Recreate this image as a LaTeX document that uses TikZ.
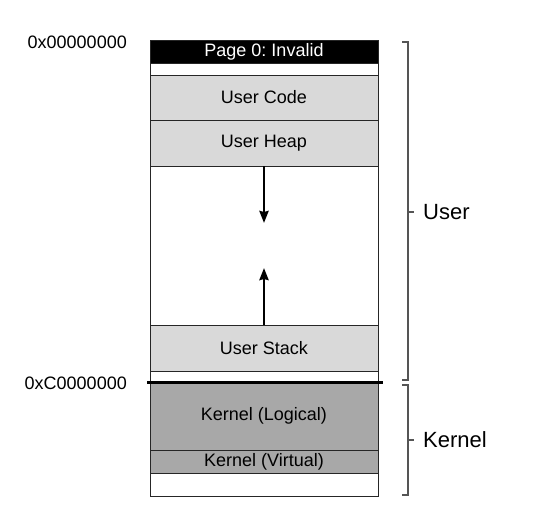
\documentclass[tikz,border=0pt]{standalone}
\usepackage{fontspec}
\setmainfont{Liberation Sans}
\usetikzlibrary{arrows.meta}
\definecolor{ugray}{HTML}{D9D9D9}
\definecolor{kgray}{HTML}{A8A8A8}
\definecolor{brgray}{HTML}{555555}
\frenchspacing
\begin{document}
\begin{tikzpicture}[x=1pt,y=-1pt,
  seg/.style={draw=black!85,line width=0.8pt,minimum width=228pt,inner sep=0pt,font=\fontsize{18}{21}\selectfont\frenchspacing,text=black},
  arr/.style={line width=2.8pt,-{Stealth[length=12pt,width=9pt,inset=1pt]}},
  brk/.style={draw=brgray,line width=1.2pt},
  side/.style={font=\fontsize{22}{26}\selectfont,anchor=west,inner sep=0pt},
  addr/.style={font=\fontsize{18}{22}\selectfont,anchor=east,inner sep=0pt}]
\useasboundingbox (0,0) rectangle (533,514);
\node[seg,fill=black,text=white,minimum height=23pt] (page0) at (264,51.5) {Page 0: Invalid};
\node[seg,fill=white,minimum height=12pt] (w1) at (264,69) {};
\node[seg,fill=ugray,minimum height=45pt] (code) at (264,97.5) {User Code};
\node[seg,fill=ugray,minimum height=46pt] (heap) at (264,143) {User Heap};
\node[seg,fill=white,minimum height=159pt] (gap) at (264,245.5) {};
\node[seg,fill=ugray,minimum height=46pt] (stack) at (264,348) {User Stack};
\node[seg,fill=white,minimum height=11pt] (w2) at (264,376.5) {};
\node[seg,fill=kgray,minimum height=68pt] (klog) at (264,416) {Kernel (Logical)};
\node[seg,fill=kgray,minimum height=23pt] (kvirt) at (264,461.5) {Kernel (Virtual)};
\node[seg,fill=white,minimum height=23pt] (w3) at (264,484.5) {};
\coordinate (hdown) at (264,223);
\coordinate (sup) at (264,268);
\draw[arr] (heap.south) -- (hdown);
\draw[arr] (stack.north) -- (sup);
\coordinate (divl) at (147,382);
\coordinate (divr) at (383,382);
\draw[line width=3pt] (divl) -- (divr);
\draw[brk] (402,42) -- (408,42) -- (408,380) -- (402,380);
\draw[brk] (408,212) -- (414,212);
\draw[brk] (402,385) -- (408,385) -- (408,495) -- (402,495);
\draw[brk] (408,440) -- (414,440);
\node[side] (ulab) at (423,212) {User};
\node[side] (klab) at (423,440) {Kernel};
\node[addr] (a0) at (127,42) {0x00000000};
\node[addr] (ac) at (127,383) {0xC0000000};
\end{tikzpicture}
\end{document}
